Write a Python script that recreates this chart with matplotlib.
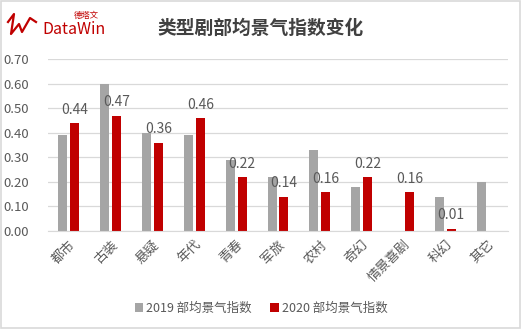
import numpy as np
import matplotlib
matplotlib.use("Agg")
import matplotlib.pyplot as plt
from matplotlib.patches import Rectangle

plt.rcParams['font.family'] = ['Noto Sans CJK SC', 'DejaVu Sans']

categories = ["都市", "古装", "悬疑", "年代", "青春", "军旅", "农村", "奇幻", "情景喜剧", "科幻", "其它"]
idx_2019 = [0.39, 0.60, 0.40, 0.39, 0.29, 0.22, 0.33, 0.18, 0.0, 0.14, 0.20]
idx_2020 = [0.44, 0.47, 0.36, 0.46, 0.22, 0.14, 0.16, 0.22, 0.16, 0.01, 0.0]
yticks = [0.0, 0.1, 0.2, 0.3, 0.4, 0.5, 0.6, 0.7]

gray = "#A5A5A5"
red = "#C00000"
txt = "#595959"

fig = plt.figure(figsize=(5.22, 3.29), dpi=100)
fig.patch.set_facecolor("white")
fig.patches.append(Rectangle((0.002, 0.003), 0.995, 0.993, transform=fig.transFigure,
                             fill=False, edgecolor="#D9D9D9", linewidth=1.2))

ax = fig.add_axes([48 / 522, 1 - 231 / 329, 460 / 522, 172 / 329])
x = np.arange(len(categories))
w = 0.215
gap = 0.035
ax.bar(x - w / 2 - gap, idx_2019, w, color=gray, label="2019 部均景气指数", zorder=2)
ax.bar(x + w / 2 + gap, idx_2020, w, color=red, label="2020 部均景气指数", zorder=2)

for xi, v in zip(x, idx_2020):
    if v > 0:
        ax.text(xi + w / 2 + gap, v + 0.025, f"{v:.2f}", ha="center", va="bottom",
                fontsize=10, color=txt)

ax.set_xlim(-0.5, len(categories) - 0.5)
ax.set_ylim(0, 0.7)
ax.set_yticks(yticks)
ax.set_yticklabels([f"{t:.2f}" for t in yticks], fontsize=9.5, color=txt)
ax.yaxis.grid(True, color="#D9D9D9", linewidth=0.9, zorder=0)
ax.tick_params(axis="y", length=0, pad=14)
ax.tick_params(axis="x", length=0, pad=5)
ax.set_xticks(x)
ax.set_xticklabels(categories, rotation=45, ha="right", rotation_mode="anchor",
                   fontsize=9.5, color=txt)
for s in ["top", "right", "left"]:
    ax.spines[s].set_visible(False)
ax.spines["bottom"].set_color("#D9D9D9")

fig.legend(loc="center", bbox_to_anchor=(0.5, 1 - 308 / 329), ncol=2, frameon=False,
           fontsize=9, labelcolor=txt, handlelength=0.7, handleheight=0.7,
           handletextpad=0.2, columnspacing=1.5)

fig.text(0.5, 1 - 28 / 329, "类型剧部均景气指数变化", ha="center", va="center",
         fontsize=13.5, fontweight="bold", color="#404040")

# logo
fig.text(42 / 522, 1 - 29 / 329, "DataWin", ha="left", va="center", fontsize=11.5, color=red)
fig.text(74 / 522, 1 - 15 / 329, "德塔文", ha="left", va="center", fontsize=6, color=red)
lx = [8, 14, 11, 19, 22, 30, 36]
ly = [22, 14, 34, 24, 32, 18, 22]
fig.add_artist(plt.Line2D([v / 522 for v in lx], [1 - v / 329 for v in ly],
                          color=red, linewidth=1.6, transform=fig.transFigure))

fig.savefig("out.png", dpi=100)
